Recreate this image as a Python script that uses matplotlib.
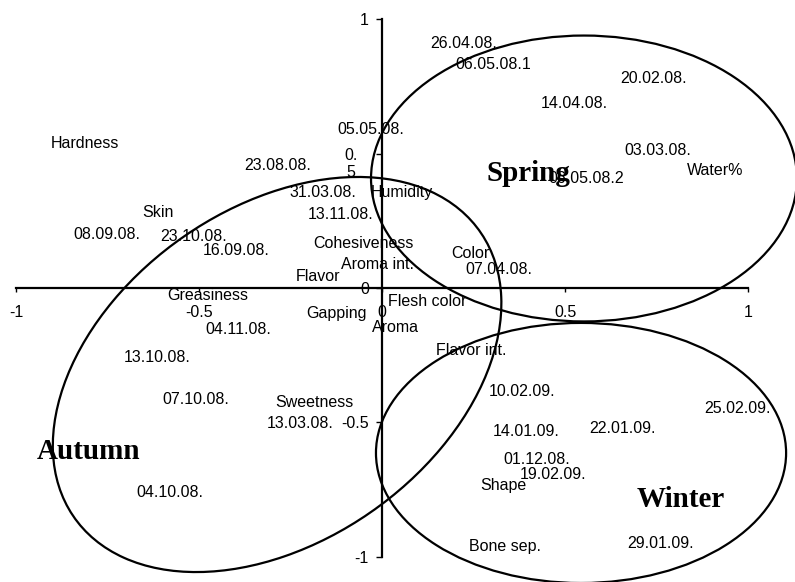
import matplotlib as mpl
import matplotlib.pyplot as plt
import numpy as np
from matplotlib.patches import Ellipse
from matplotlib.transforms import ScaledTranslation

# sensory attributes (loadings)
attr_names = ["Hardness", "Humidity", "Skin", "Cohesiveness", "Aroma int.",
              "Flavor", "Greasiness", "Color", "Water%", "Gapping", "Aroma",
              "Flesh color", "Flavor int.", "Sweetness", "Shape", "Bone sep."]
attr_x = [-0.812, 0.054, -0.613, -0.052, -0.013, -0.175, -0.476, 0.240,
          0.908, -0.126, 0.035, 0.122, 0.244, -0.184, 0.330, 0.335]
attr_y = [0.544, 0.362, 0.288, 0.172, 0.094, 0.048, -0.022, 0.133,
          0.442, -0.090, -0.140, -0.045, -0.227, -0.419, -0.731, -0.956]

# sampling dates (scores)
date_names = ["05.05.08.", "23.08.08.", "31.03.08.", "13.11.08.", "08.09.08.",
              "23.10.08.", "16.09.08.", "07.04.08.", "26.04.08.", "06.05.08.1",
              "20.02.08.", "14.04.08.", "03.03.08.", "06.05.08.2", "04.11.08.",
              "13.10.08.", "07.10.08.", "13.03.08.", "04.10.08.", "10.02.09.",
              "25.02.09.", "14.01.09.", "22.01.09.", "01.12.08.", "19.02.09.",
              "29.01.09."]
date_x = [-0.031, -0.286, -0.162, -0.114, -0.752, -0.515, -0.399, 0.319,
          0.223, 0.303, 0.742, 0.524, 0.753, 0.556, -0.392, -0.615, -0.508,
          -0.223, -0.580, 0.382, 0.970, 0.393, 0.657, 0.423, 0.466, 0.759]
date_y = [0.595, 0.461, 0.362, 0.278, 0.204, 0.197, 0.144, 0.076, 0.917,
          0.836, 0.786, 0.693, 0.517, 0.414, -0.150, -0.253, -0.408, -0.500,
          -0.754, -0.380, -0.442, -0.528, -0.516, -0.632, -0.690, -0.946]

# season groups: label position and ellipse (center, width, height, angle)
season_names = ["Spring", "Autumn", "Winter"]
season_label_x = [0.399, -0.803, 0.816]
season_label_y = [0.439, -0.597, -0.777]
season_cx = [0.551, -0.287, 0.543]
season_cy = [0.4075, -0.322, -0.614]
season_w = [1.163, 1.600, 1.120]
season_h = [1.064, 1.050, 0.968]
season_angle = [0.0, 58.5, 0.0]

x_ticks = [-1, -0.5, 0, 0.5, 1]
x_tick_labels = ["-1", "-0.5", "0", "0.5", "1"]
y_ticks = [-1, -0.5, 0, 0.5, 1]
y_tick_labels = ["-1", "-0.5", "0", "0.\n5", "1"]


def main():
    mpl.rcParams['font.family'] = ['Liberation Sans', 'DejaVu Sans']

    fig = plt.figure(figsize=(7.95, 5.82), dpi=100)
    ax = fig.add_axes([0, 0, 1, 1])
    ax.set_xlim(-1.0437, 1.1273)
    ax.set_ylim(-1.0942, 1.0718)

    # axes crossing at the origin
    for side in ['top', 'right']:
        ax.spines[side].set_visible(False)
    ax.spines['left'].set_position(('data', 0))
    ax.spines['bottom'].set_position(('data', 0))
    ax.spines['left'].set_bounds(-1, 1)
    ax.spines['bottom'].set_bounds(-1, 1)
    ax.spines['left'].set_linewidth(1.6)
    ax.spines['bottom'].set_linewidth(1.6)

    ax.set_xticks(x_ticks, x_tick_labels)
    ax.set_yticks(y_ticks, y_tick_labels)
    ax.tick_params(axis='x', direction='out', length=3, width=1, pad=9.5,
                   labelsize=11.5)
    ax.tick_params(axis='y', direction='out', length=4.5, width=1, pad=5,
                   labelsize=11.5)
    # the wrapped 0.5 label sits lower and further left
    lbl = ax.get_yticklabels()[3]
    lbl.set_horizontalalignment('center')
    lbl.set_transform(lbl.get_transform() +
                      ScaledTranslation(-13 / 72, -5.5 / 72,
                                        fig.dpi_scale_trans))

    # ellipses around the seasons
    for i in range(len(season_names)):
        ax.add_patch(Ellipse((season_cx[i], season_cy[i]), season_w[i],
                             season_h[i], angle=season_angle[i],
                             fill=False, edgecolor='black', linewidth=1.6,
                             clip_on=False))

    # text labels
    for name, x, y in zip(attr_names, attr_x, attr_y):
        ax.text(x, y, name, ha='center', va='center_baseline', fontsize=11.5)
    for name, x, y in zip(date_names, date_x, date_y):
        ax.text(x, y, name, ha='center', va='center_baseline', fontsize=11.5)
    for name, x, y in zip(season_names, season_label_x, season_label_y):
        ax.text(x, y, name, ha='center', va='center_baseline', fontsize=21,
                family='Liberation Serif', fontweight='bold')

    fig.savefig("out.png", dpi=100)


if __name__ == "__main__":
    main()
